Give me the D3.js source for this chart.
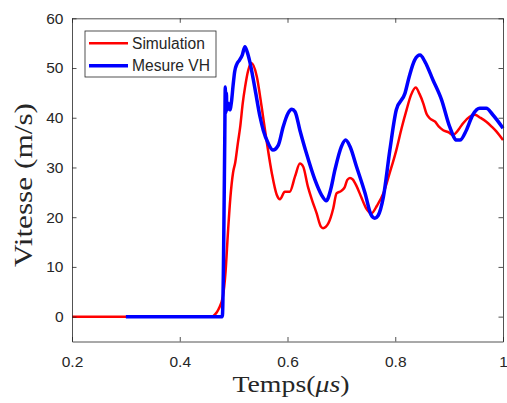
<!DOCTYPE html>
<html>
<head>
<meta charset="utf-8">
<style>
    body { margin: 0; background: #fff; }
    .tick text { font-family: "Liberation Sans", Arial, sans-serif; font-size: 15.5px; fill: #262626; }
    .tick line, .domain { stroke: #262626; stroke-width: 0.8; }
    .lab { font-family: "Liberation Serif", "DejaVu Serif", serif; fill: #262626; }
</style>
</head>
<body>
<svg id="chart" width="507" height="403"></svg>
<script src="https://d3js.org/d3.v7.min.js"></script>
<script>
// values, t in µs, v in m/s
let simT = [0.2, 0.46, 0.466, 0.472, 0.480, 0.485, 0.4895, 0.494, 0.499, 0.503, 0.508, 0.512, 0.517, 0.521, 0.527, 0.533,
    0.543, 0.552, 0.561, 0.571, 0.580, 0.586, 0.595, 0.604, 0.614, 0.623, 0.629, 0.638, 0.646, 0.654, 0.662, 0.666,
    0.676, 0.685, 0.691, 0.700, 0.706, 0.711, 0.716, 0.721, 0.728, 0.737, 0.746, 0.756, 0.766, 0.778, 0.790, 0.802,
    0.812, 0.821, 0.829, 0.838, 0.845, 0.852, 0.858, 0.864, 0.874, 0.881, 0.889, 0.900, 0.907, 0.913, 0.920, 0.926,
    0.938, 0.948, 0.958, 0.969, 0.979, 0.988, 1.0]
let simV = [0, 0, 0.5, 1.5, 4, 9, 17, 24, 29, 31, 35, 38, 43, 46, 49.5, 51,
    48.3, 42.2, 35.5, 28.8, 24.5, 23.6, 25.1, 25.1, 28.2, 30.8, 30.2, 26.1, 23.3, 20.8, 18.1, 17.8,
    18.8, 21.8, 24.8, 25.3, 26, 27.5, 27.9, 27.6, 26.3, 24, 21.8, 20.8, 22.3, 24.8, 29, 33.5,
    38, 41.6, 44.5, 46.1, 44.8, 42.9, 40.8, 39.9, 39.2, 38.2, 37.5, 37, 36.5, 37, 38, 38.9,
    40.2, 40.6, 40, 39.2, 38.2, 37.2, 35.5]

let mesT = [0.3, 0.479, 0.4835, 0.4845, 0.4855, 0.4865, 0.4875, 0.490, 0.493, 0.496, 0.499, 0.502, 0.506, 0.511, 0.516,
    0.521, 0.525, 0.530, 0.540, 0.549, 0.555, 0.564, 0.573, 0.583, 0.592, 0.601, 0.608, 0.614, 0.623, 0.635, 0.651,
    0.663, 0.672, 0.680, 0.688, 0.700, 0.708, 0.716, 0.728, 0.744, 0.755, 0.762, 0.768, 0.778, 0.790, 0.802, 0.818,
    0.826, 0.836, 0.846, 0.855, 0.870, 0.886, 0.901, 0.914, 0.920, 0.932, 0.944, 0.957, 0.969, 0.981, 1.0]
let mesV = [0, 0, 35, 46.2, 41, 45, 41.5, 42.9, 41.6, 43.2, 46.5, 49.3, 50.8, 51.6, 52.6,
    54.3, 53.3, 51.3, 45.6, 40.2, 37.5, 34.9, 33.5, 34.5, 38.2, 40.9, 41.7, 41.2, 37.5, 32.9, 27.5,
    24.5, 23.3, 25.5, 29.5, 34.2, 35.5, 34.2, 30.2, 24.8, 20.5, 19.8, 20.3, 24.1, 33.5, 41.6, 44.9,
    48.3, 51.6, 52.6, 51.3, 47.6, 43.6, 38.2, 35.5, 35.5, 37.5, 40.6, 41.9, 41.9, 40.6, 37.9]

let xTicks = [0.2, 0.4, 0.6, 0.8, 1]
let xTickLabels = ["0.2", "0.4", "0.6", "0.8", "1"]
let yTicks = [0, 10, 20, 30, 40, 50, 60]
let seriesNames = ["Simulation", "Mesure VH"]
let seriesColors = ["#ff0000", "#0000ff"]

let svg = d3.select("#chart")
let plotL = 72, plotR = 503, plotT = 18.3, plotB = 341.5

let x = d3.scaleLinear().domain([0.2, 1]).range([plotL, plotR])
let y = d3.scaleLinear().domain([-5, 60]).range([plotB, plotT])

let line = d3.line()
    .x(d => x(d[0]))
    .y(d => y(d[1]))
    .curve(d3.curveMonotoneX)

let sim = simT.map((t, i) => [t, simV[i]])
let mes = mesT.map((t, i) => [t, mesV[i]])

svg.append("path").datum(sim)
    .attr("d", line).attr("fill", "none")
    .attr("stroke", seriesColors[0]).attr("stroke-width", 2.5)
svg.append("path").datum(mes)
    .attr("d", line).attr("fill", "none")
    .attr("stroke", seriesColors[1]).attr("stroke-width", 3.5)
    .attr("stroke-linejoin", "round")

// axes, ticks pointing inward, box on all four sides
svg.append("g").attr("transform", "translate(0," + plotB + ")")
    .call(d3.axisBottom(x).tickValues(xTicks).tickFormat((d, i) => xTickLabels[i])
        .tickSizeInner(-4.5).tickSizeOuter(0).tickPadding(14))
svg.append("g").attr("transform", "translate(0," + plotT + ")")
    .call(d3.axisTop(x).tickValues(xTicks).tickFormat("")
        .tickSizeInner(-4.5).tickSizeOuter(0))
svg.append("g").attr("transform", "translate(" + plotL + ",0)")
    .call(d3.axisLeft(y).tickValues(yTicks)
        .tickSizeInner(-4.5).tickSizeOuter(0).tickPadding(8.5))
svg.append("g").attr("transform", "translate(" + plotR + ",0)")
    .call(d3.axisRight(y).tickValues(yTicks).tickFormat("")
        .tickSizeInner(-4.5).tickSizeOuter(0))

// legend
let lg = svg.append("g")
lg.append("rect").attr("x", 85).attr("y", 31).attr("width", 131).attr("height", 46)
    .attr("fill", "#fff").attr("stroke", "#262626").attr("stroke-width", 0.8)
seriesNames.forEach((name, i) => {
    let yy = 43.3 + i * 22.4
    lg.append("line").attr("x1", 89).attr("x2", 128).attr("y1", yy).attr("y2", yy)
        .attr("stroke", seriesColors[i]).attr("stroke-width", i ? 3.5 : 2.5)
    lg.append("text").attr("x", 132).attr("y", yy).attr("dy", "0.35em")
        .style("font-family", "'Liberation Sans', Arial, sans-serif")
        .style("font-size", "15.6px").style("fill", "#262626")
        .text(name)
})

// axis titles
let xl = svg.append("text").attr("class", "lab")
    .attr("x", 291).attr("y", 392).attr("text-anchor", "middle")
    .style("font-size", "24px")
    .attr("textLength", 117).attr("lengthAdjust", "spacingAndGlyphs")
xl.append("tspan").text("Temps(")
xl.append("tspan").style("font-style", "italic").text("μs")
xl.append("tspan").text(")")

svg.append("text").attr("class", "lab")
    .attr("transform", "translate(32,185) rotate(-90)")
    .attr("text-anchor", "middle")
    .style("font-size", "26px")
    .attr("textLength", 164).attr("lengthAdjust", "spacingAndGlyphs")
    .text("Vitesse (m/s)")
</script>
</body>
</html>
